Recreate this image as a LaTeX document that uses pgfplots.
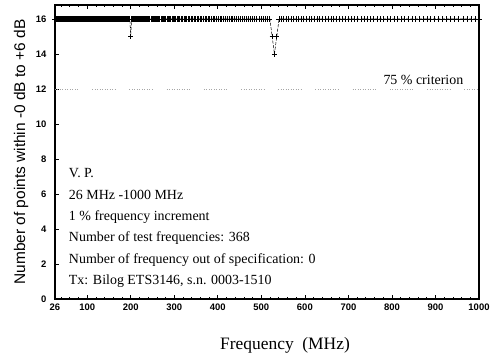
\documentclass[border=0pt]{standalone}
\usepackage{pgfplots}
\pgfplotsset{compat=1.18}
\usepackage{fontspec}
\setmainfont{Liberation Serif}
\newfontfamily\arial{Liberation Sans}
\begin{document}
\begin{tikzpicture}
\begin{axis}[name=ax, scale only axis, width=424bp, height=294bp,
 xmin=26, xmax=1000, ymin=0, ymax=16.8,
 xtick={26,100,200,300,400,500,600,700,800,900,1000},
 minor xtick={40,60,80,120,140,160,180,220,240,260,280,320,340,360,380,420,440,460,480,520,540,560,580,620,640,660,680,720,740,760,780,820,840,860,880,920,940,960,980},
 ytick={0,2,4,6,8,10,12,14,16},
 xtick pos=both, ytick pos=left,
 tick align=inside, major tick length=4bp, minor tick length=2.2bp,
 axis line style={line width=1.1bp},
 tick style={line width=0.7bp, black},
 tick label style={font=\arial\bfseries\fontsize{9.5}{11}\selectfont},
 /pgf/number format/assume math mode=true,
 /pgf/number format/1000 sep={},
 yticklabel style={xshift=-5bp},
 xticklabel style={yshift=-1bp},
 xlabel={Frequency\ \ (MHz)},
 every axis x label/.style={at={(axis description cs:0.5,0)}, anchor=center, yshift=-46bp, xshift=18bp, font=\fontsize{17.5}{20}\selectfont},
 ylabel={Number of points within -0 dB to +6 dB},
 every axis y label/.style={at={(axis description cs:-0.08,0.5)}, rotate=90, anchor=center, font=\arial\fontsize{15.5}{17}\selectfont},
 clip=false,
]
\addplot[gray!70, line width=0.6bp, dash pattern=on 0.7bp off 1.8bp on 0.7bp off 1.8bp on 0.7bp off 1.8bp on 0.7bp off 1.8bp on 0.7bp off 1.8bp on 0.7bp off 1.8bp on 0.7bp off 1.8bp on 0.7bp off 1.8bp on 0.7bp off 1.8bp on 0.7bp off 14bp] coordinates {(26,12) (1000,12)};
\addplot[black, line width=0.5bp, dash pattern=on 3bp off 1.5bp, mark=+, mark size=2.6bp, mark options={solid, line width=0.8bp}] table[row sep=\\] {
x y\\
26.00 16\\ 26.26 16\\ 26.52 16\\ 26.79 16\\ 27.06 16\\ 27.33 16\\ 27.60 16\\ 27.87 16\\ 28.15 16\\ 28.44 16\\
28.72 16\\ 29.01 16\\ 29.30 16\\ 29.59 16\\ 29.89 16\\ 30.19 16\\ 30.49 16\\ 30.79 16\\ 31.10 16\\ 31.41 16\\
31.73 16\\ 32.04 16\\ 32.36 16\\ 32.69 16\\ 33.02 16\\ 33.35 16\\ 33.68 16\\ 34.01 16\\ 34.35 16\\ 34.70 16\\
35.04 16\\ 35.39 16\\ 35.75 16\\ 36.11 16\\ 36.47 16\\ 36.83 16\\ 37.20 16\\ 37.57 16\\ 37.95 16\\ 38.33 16\\
38.71 16\\ 39.10 16\\ 39.49 16\\ 39.89 16\\ 40.28 16\\ 40.69 16\\ 41.09 16\\ 41.50 16\\ 41.92 16\\ 42.34 16\\
42.76 16\\ 43.19 16\\ 43.62 16\\ 44.06 16\\ 44.50 16\\ 44.94 16\\ 45.39 16\\ 45.85 16\\ 46.31 16\\ 46.77 16\\
47.24 16\\ 47.71 16\\ 48.18 16\\ 48.67 16\\ 49.15 16\\ 49.64 16\\ 50.14 16\\ 50.64 16\\ 51.15 16\\ 51.66 16\\
52.18 16\\ 52.70 16\\ 53.22 16\\ 53.76 16\\ 54.29 16\\ 54.84 16\\ 55.38 16\\ 55.94 16\\ 56.50 16\\ 57.06 16\\
57.63 16\\ 58.21 16\\ 58.79 16\\ 59.38 16\\ 59.97 16\\ 60.57 16\\ 61.18 16\\ 61.79 16\\ 62.41 16\\ 63.03 16\\
63.66 16\\ 64.30 16\\ 64.94 16\\ 65.59 16\\ 66.25 16\\ 66.91 16\\ 67.58 16\\ 68.25 16\\ 68.94 16\\ 69.63 16\\
70.32 16\\ 71.03 16\\ 71.74 16\\ 72.45 16\\ 73.18 16\\ 73.91 16\\ 74.65 16\\ 75.40 16\\ 76.15 16\\ 76.91 16\\
77.68 16\\ 78.46 16\\ 79.24 16\\ 80.04 16\\ 80.84 16\\ 81.65 16\\ 82.46 16\\ 83.29 16\\ 84.12 16\\ 84.96 16\\
85.81 16\\ 86.67 16\\ 87.53 16\\ 88.41 16\\ 89.29 16\\ 90.19 16\\ 91.09 16\\ 92.00 16\\ 92.92 16\\ 93.85 16\\
94.79 16\\ 95.74 16\\ 96.70 16\\ 97.66 16\\ 98.64 16\\ 99.62 16\\ 100.62 16\\ 101.63 16\\ 102.64 16\\ 103.67 16\\
104.70 16\\ 105.75 16\\ 106.81 16\\ 107.88 16\\ 108.95 16\\ 110.04 16\\ 111.15 16\\ 112.26 16\\ 113.38 16\\ 114.51 16\\
115.66 16\\ 116.82 16\\ 117.99 16\\ 119.17 16\\ 120.36 16\\ 121.56 16\\ 122.78 16\\ 124.00 16\\ 125.24 16\\ 126.50 16\\
127.76 16\\ 129.04 16\\ 130.33 16\\ 131.63 16\\ 132.95 16\\ 134.28 16\\ 135.62 16\\ 136.98 16\\ 138.35 16\\ 139.73 16\\
141.13 16\\ 142.54 16\\ 143.96 16\\ 145.40 16\\ 146.86 16\\ 148.32 16\\ 149.81 16\\ 151.31 16\\ 152.82 16\\ 154.35 16\\
155.89 16\\ 157.45 16\\ 159.03 16\\ 160.62 16\\ 162.22 16\\ 163.85 16\\ 165.48 16\\ 167.14 16\\ 168.81 16\\ 170.50 16\\
172.20 16\\ 173.92 16\\ 175.66 16\\ 177.42 16\\ 179.19 16\\ 180.99 16\\ 182.80 16\\ 184.63 16\\ 186.47 16\\ 188.34 16\\
190.22 16\\ 192.12 16\\ 194.05 16\\ 195.99 16\\ 197.95 16\\ 199.93 15\\ 201.92 16\\ 203.94 16\\ 205.98 16\\ 208.04 16\\
210.12 16\\ 212.22 16\\ 214.35 16\\ 216.49 16\\ 218.65 16\\ 220.84 16\\ 223.05 16\\ 225.28 16\\ 227.53 16\\ 229.81 16\\
232.11 16\\ 234.43 16\\ 236.77 16\\ 239.14 16\\ 241.53 16\\ 243.94 16\\ 246.38 16\\ 248.85 16\\ 251.33 16\\ 253.85 16\\
256.39 16\\ 258.95 16\\ 261.54 16\\ 264.15 16\\ 266.79 16\\ 269.46 16\\ 272.16 16\\ 274.88 16\\ 277.63 16\\ 280.40 16\\
283.21 16\\ 286.04 16\\ 288.90 16\\ 291.79 16\\ 294.71 16\\ 297.66 16\\ 300.63 16\\ 303.64 16\\ 306.68 16\\ 309.74 16\\
312.84 16\\ 315.97 16\\ 319.13 16\\ 322.32 16\\ 325.54 16\\ 328.80 16\\ 332.09 16\\ 335.41 16\\ 338.76 16\\ 342.15 16\\
345.57 16\\ 349.03 16\\ 352.52 16\\ 356.04 16\\ 359.60 16\\ 363.20 16\\ 366.83 16\\ 370.50 16\\ 374.20 16\\ 377.95 16\\
381.73 16\\ 385.54 16\\ 389.40 16\\ 393.29 16\\ 397.23 16\\ 401.20 16\\ 405.21 16\\ 409.26 16\\ 413.35 16\\ 417.49 16\\
421.66 16\\ 425.88 16\\ 430.14 16\\ 434.44 16\\ 438.78 16\\ 443.17 16\\ 447.60 16\\ 452.08 16\\ 456.60 16\\ 461.17 16\\
465.78 16\\ 470.44 16\\ 475.14 16\\ 479.89 16\\ 484.69 16\\ 489.54 16\\ 494.43 16\\ 499.37 16\\ 504.37 16\\ 509.41 16\\
514.50 16\\ 519.65 16\\ 524.84 15\\ 530.09 14\\ 535.39 15\\ 540.75 16\\ 546.16 16\\ 551.62 16\\ 557.13 16\\ 562.70 16\\
568.33 16\\ 574.01 16\\ 579.75 16\\ 585.55 16\\ 591.41 16\\ 597.32 16\\ 603.30 16\\ 609.33 16\\ 615.42 16\\ 621.57 16\\
627.79 16\\ 634.07 16\\ 640.41 16\\ 646.81 16\\ 653.28 16\\ 659.81 16\\ 666.41 16\\ 673.08 16\\ 679.81 16\\ 686.61 16\\
693.47 16\\ 700.41 16\\ 707.41 16\\ 714.48 16\\ 721.63 16\\ 728.85 16\\ 736.13 16\\ 743.50 16\\ 750.93 16\\ 758.44 16\\
766.03 16\\ 773.69 16\\ 781.42 16\\ 789.24 16\\ 797.13 16\\ 805.10 16\\ 813.15 16\\ 821.28 16\\ 829.50 16\\ 837.79 16\\
846.17 16\\ 854.63 16\\ 863.18 16\\ 871.81 16\\ 880.53 16\\ 889.33 16\\ 898.23 16\\ 907.21 16\\ 916.28 16\\ 925.44 16\\
934.70 16\\ 944.04 16\\ 953.48 16\\ 963.01 16\\ 972.64 16\\ 982.37 16\\ 992.19 16\\ 1000.00 16\\
};
\node[anchor=east, font=\fontsize{14}{16}\selectfont] at (axis cs:972,12.5) {75 \% criterion};
\begin{scope}[every node/.style={anchor=west, font=\fontsize{14}{16}\selectfont}]
\node at (axis cs:50,7.22) {V. P.};
\node at (axis cs:50,5.96) {26 MHz -1000 MHz};
\node at (axis cs:50,4.70) {1 \% frequency increment};
\node at (axis cs:50,3.50) {Number of test frequencies: 368};
\node at (axis cs:50,2.24) {Number of frequency out of specification: 0};
\node at (axis cs:50,1.03) {Tx: Bilog ETS3146, s.n. 0003-1510};
\end{scope}
\end{axis}
\path (ax.south west) ++(-55bp,-64bp) (ax.north east) ++(17bp,5bp);
\end{tikzpicture}
\end{document}
